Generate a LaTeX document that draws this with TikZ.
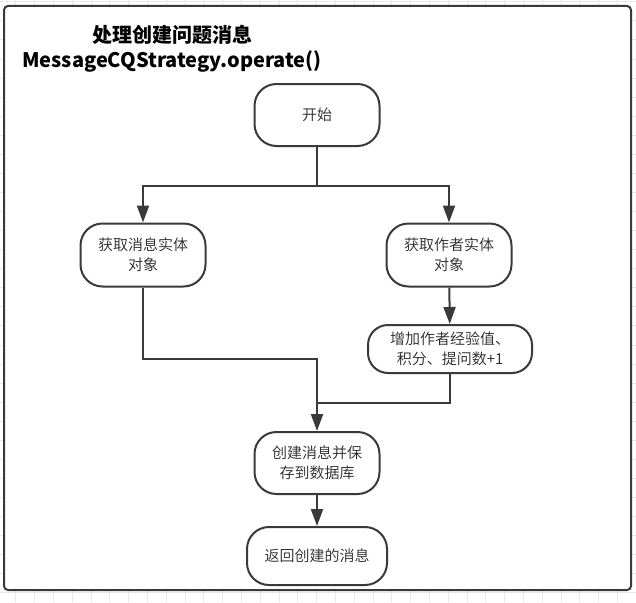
\documentclass[tikz,border=0pt]{standalone}
\usepackage{fontspec}
\newfontfamily\cjk{Noto Sans CJK SC}
\newfontfamily\cjklight{Noto Sans CJK SC DemiLight}
\usepackage{tikz}
\usetikzlibrary{arrows.meta}
\definecolor{linecol}{RGB}{58,58,58}
\definecolor{textcol}{RGB}{40,40,40}
\definecolor{gridcol}{RGB}{232,232,232}

\begin{document}
\begin{tikzpicture}[x=1pt,y=-1pt,
    every node/.style={font=\cjklight\fontsize{15}{20}\selectfont,text=textcol,align=center},
    procbox/.style={draw=linecol,line width=2pt,rounded corners=22pt,inner sep=0pt,fill=white},
    arr/.style={draw=linecol,line width=2pt,-{Triangle[length=17pt,width=12pt]}},
    conn/.style={draw=linecol,line width=2pt},
    gridline/.style={draw=gridcol,line width=0.8pt}]
    \useasboundingbox (0,0) rectangle (636,602);
    \foreach \i in {0,...,33} \draw[gridline] ({15.7+18.8*\i},0) -- ({15.7+18.8*\i},602);
    \foreach \j in {0,...,31} \draw[gridline] (0,{1.7+19.07*\j}) -- (636,{1.7+19.07*\j});
    \draw[draw=linecol,line width=2pt,fill=white,rounded corners=4pt] (4,6) rectangle (631,590);
    \node[font=\cjk\bfseries\fontsize{20}{25}\selectfont,text=black] (title) at (172,49) {处理创建问题消息\\MessageCQStrategy.operate()};
    \node[procbox,minimum width=125pt,minimum height=62pt] (start) at (317,115) {开始};
    \node[procbox,minimum width=125pt,minimum height=63pt] (getmsg) at (143,255) {获取消息实体\\对象};
    \node[procbox,minimum width=125pt,minimum height=63pt] (getauthor) at (449,255) {获取作者实体\\对象};
    \node[procbox,minimum width=164pt,minimum height=48pt,rounded corners=20pt] (addscore) at (450,349) {增加作者经验值、\\积分、提问数+1};
    \node[procbox,minimum width=125pt,minimum height=62pt] (savemsg) at (317,463) {创建消息并保\\存到数据库};
    \node[procbox,minimum width=140pt,minimum height=58pt] (ret) at (317,556) {返回创建的消息};
    \coordinate (split) at (317,186);
    \coordinate (leftjoin) at (317,359);
    \coordinate (rightjoin) at (317,403);
    \draw[conn] (start) -- (split);
    \draw[arr] (split) -| (getmsg);
    \draw[arr] (split) -| (getauthor);
    \draw[arr] (getauthor) -- (addscore);
    \draw[arr] (getmsg) |- (leftjoin) -- (savemsg);
    \draw[conn] (addscore) |- (rightjoin);
    \draw[arr] (savemsg) -- (ret);
\end{tikzpicture}
\end{document}
